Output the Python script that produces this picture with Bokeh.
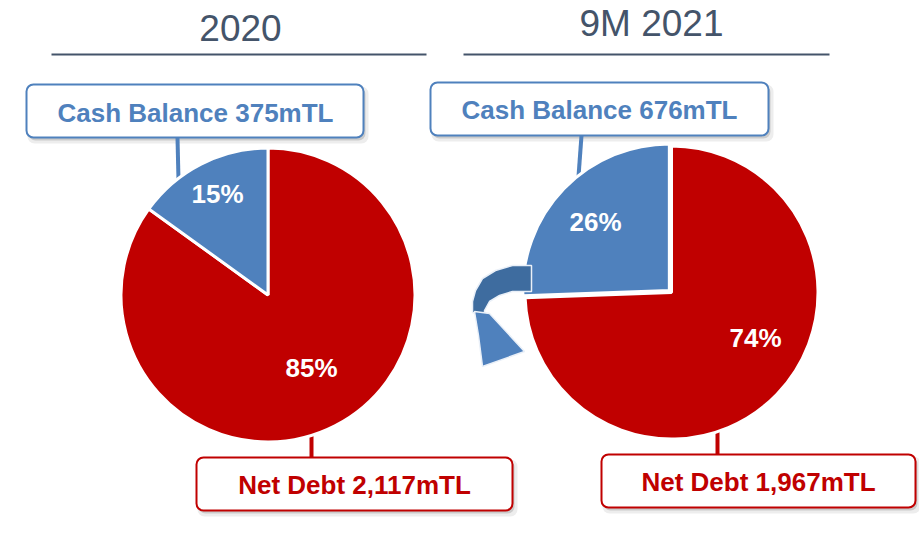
import math
from bokeh.plotting import figure
from bokeh.models import Range1d, BoxAnnotation
from bokeh.core.properties import value
from bokeh.embed import file_html
from bokeh.resources import INLINE

# ---------------- data ----------------
periods = ["2020", "9M 2021"]
cash_balance = [375, 676]        # mTL
net_debt = [2117, 1967]          # mTL
cash_labels = ["Cash Balance 375mTL", "Cash Balance 676mTL"]
debt_labels = ["Net Debt 2,117mTL", "Net Debt 1,967mTL"]

# ---------------- layout (page pixels, y downward) ----------------
layout = [
    dict(cx=267.5, cy=294.5, r=145.5, explode=0.0,
         title=(240, 27), rule=(51, 426, 54),
         cash_box=(26, 84, 363, 137), cash_text=(195, 112), cash_conn=((177, 137), (178, 180)),
         debt_box=(196, 457, 512, 510), debt_text=(354, 484), debt_conn=((311, 432), (311, 457)),
         pct_pos=[(217, 193), (311, 367)]),
    dict(cx=671.0, cy=292.0, r=145.0, explode=3.0,
         title=(651, 23), rule=(463, 829, 54),
         cash_box=(430, 82, 768, 135), cash_text=(599, 109), cash_conn=((581, 135), (578, 176)),
         debt_box=(601, 454, 915, 507), debt_text=(758, 481), debt_conn=((717, 428), (717, 454)),
         pct_pos=[(595, 221), (755, 337)]),
]

BLUE = "#4F81BD"
RED = "#C00000"
TITLE = "#44546A"
FONT = value("Liberation Sans")

W, H = 919, 534


def Y(py):
    return H - py


p = figure(width=W, height=H, x_range=Range1d(0, W), y_range=Range1d(0, H),
           output_backend="svg", toolbar_location=None,
           x_axis_type=None, y_axis_type=None, min_border=0)
p.outline_line_color = None
p.background_fill_color = "white"
p.border_fill_color = "white"


def rbox(l, t, r, b, color):
    for dx, dy, a, grow in [(3, 4, 0.07, 2), (2, 3, 0.14, 0)]:
        p.add_layout(BoxAnnotation(left=l + dx - grow, right=r + dx + grow,
                                   top=Y(t + dy - grow), bottom=Y(b + dy + grow),
                                   fill_color="black", fill_alpha=a, line_color=None,
                                   border_radius=7, level="underlay"))
    p.add_layout(BoxAnnotation(left=l, right=r, top=Y(t), bottom=Y(b),
                               fill_color="white", fill_alpha=1.0, line_color=color,
                               line_alpha=1.0, line_width=2, border_radius=7, level="underlay"))


def txt(x, y, s, size, color, bold=True):
    p.text(x=[x], y=[Y(y)], text=[s], text_font=FONT, text_font_size=size,
           text_font_style="bold" if bold else "normal", text_color=color,
           text_align="center", text_baseline="middle")


for i, L in enumerate(layout):
    total = cash_balance[i] + net_debt[i]
    cash_frac = cash_balance[i] / total
    debt_frac = net_debt[i] / total
    start = math.pi / 2
    cash_end = start + cash_frac * 2 * math.pi
    mid = (start + cash_end) / 2

    # title and rule
    tx, ty = L["title"]
    txt(tx, ty, periods[i], "37px", TITLE, bold=False)
    x0, x1, ry = L["rule"]
    p.line(x=[x0, x1], y=[Y(ry), Y(ry)], line_color=TITLE, line_width=2)

    # connectors
    (a, b), (c, d) = L["cash_conn"]
    p.line(x=[a, c], y=[Y(b), Y(d)], line_color=BLUE, line_width=4)
    (a, b), (c, d) = L["debt_conn"]
    p.line(x=[a, c], y=[Y(b), Y(d)], line_color=RED, line_width=4)

    # pie
    cx, cy, r = L["cx"], Y(L["cy"]), L["r"]
    ex = L["explode"]
    p.wedge(x=[cx], y=[cy], radius=r + 1.5, start_angle=cash_end, end_angle=start,
            direction="anticlock", fill_color=RED, line_color="white", line_width=3)
    p.wedge(x=[cx + ex * math.cos(mid)], y=[cy + ex * math.sin(mid)], radius=r + 1.5,
            start_angle=start, end_angle=cash_end, direction="anticlock",
            fill_color=BLUE, line_color="white", line_width=3)

    # percent labels
    pcts = [f"{round(cash_frac * 100)}%", f"{round(debt_frac * 100)}%"]
    for (px, py), t in zip(L["pct_pos"], pcts):
        txt(px, py, t, "26px", "white")

    # boxes
    rbox(*L["cash_box"], BLUE)
    rbox(*L["debt_box"], RED)
    tx, ty = L["cash_text"]
    txt(tx, ty, cash_labels[i], "26px", BLUE)
    tx, ty = L["debt_text"]
    txt(tx, ty, debt_labels[i], "26px", RED)

# curved arrow (decoration) between the two pies
band = [(531, 265), (512, 265), (495, 270), (482, 278), (475, 290), (472, 301), (472, 312),
        (484, 315), (484, 310), (489, 301), (499, 295), (512, 291), (531, 291)]
head = [(474, 311), (489, 313), (524, 351), (482, 366), (478, 335)]
p.patch(x=[q[0] for q in band], y=[Y(q[1]) for q in band], fill_color="#3E6C9F",
        line_color="#EAF0F8", line_width=1.5)
p.patch(x=[q[0] for q in head], y=[Y(q[1]) for q in head], fill_color="#4F81BD",
        line_color="#EAF0F8", line_width=1.5)

open("out.html", "w").write(file_html(p, INLINE))
